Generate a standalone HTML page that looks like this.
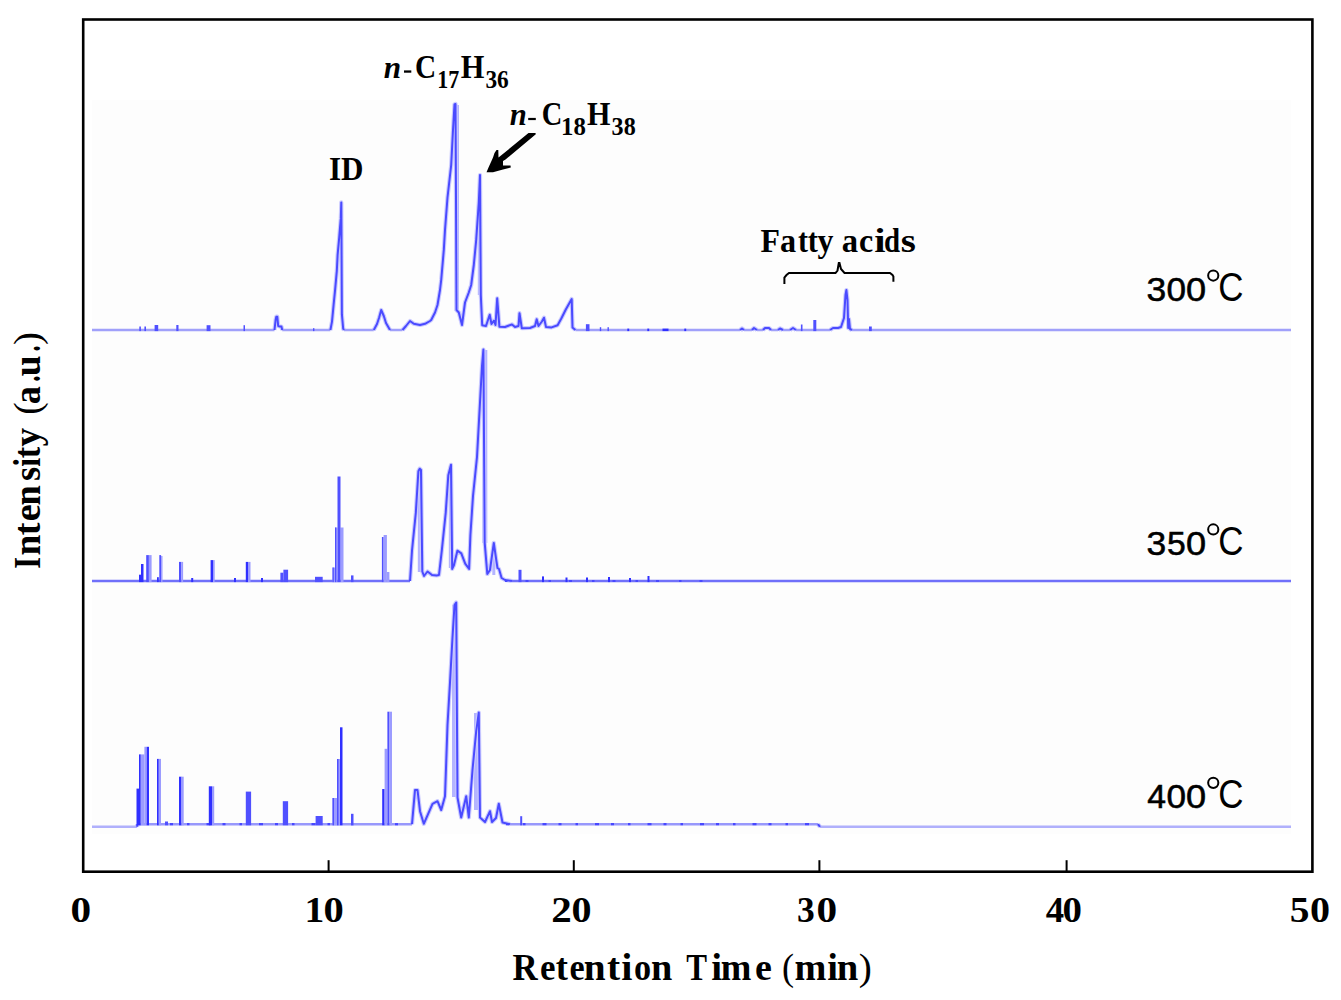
<!DOCTYPE html>
<html><head><meta charset="utf-8">
<style>
html,body{margin:0;padding:0;background:#fff;}
body{width:1341px;height:1000px;overflow:hidden;}
svg{display:block;}
.sb{font-family:"Liberation Serif",serif;font-weight:bold;fill:#000;}
.ss{font-family:"Liberation Sans",sans-serif;fill:#000;}
.sd{font-family:"Liberation Sans",sans-serif;fill:#000;stroke:#000;stroke-width:0.55px;}
</style></head><body>
<svg width="1341" height="1000" viewBox="0 0 1341 1000">
<rect x="0" y="0" width="1341" height="1000" fill="#fff"/>
<rect x="92" y="100" width="1199" height="734" fill="#fdfdfd"/>
<g>
<rect x="454.6" y="105.0" width="4.4" height="206.0" fill="#b4b4ff"/>
<rect x="477.8" y="205.0" width="3.5" height="90.0" fill="#b4b4ff"/>
<rect x="571.5" y="300.0" width="2.5" height="27.0" fill="#b4b4ff"/>
<rect x="417.8" y="472.0" width="4.0" height="100.0" fill="#b4b4ff"/>
<rect x="448.8" y="470.0" width="3.5" height="98.0" fill="#b4b4ff"/>
<rect x="482.3" y="350.0" width="5.0" height="193.0" fill="#b4b4ff"/>
<rect x="492.3" y="545.0" width="3.0" height="30.0" fill="#b4b4ff"/>
<rect x="452.0" y="605.0" width="5.0" height="192.0" fill="#b4b4ff"/>
<rect x="474.0" y="713.0" width="5.0" height="97.0" fill="#b4b4ff"/>
<path d="M274.5,330.0L275.6,320.0L276.3,316.7L277.3,316.7L278.2,326.0L280.0,326.6L281.5,326.6L282.2,330.0M330.4,330.0L332.0,321.6L333.6,304.8L335.2,288.8L336.8,271.2L337.6,255.2L339.2,237.6L340.8,218.4L341.3,202.4L341.9,314.4L343.2,328.8L344.0,330.0M373.8,330.0L377.0,324.0L379.0,318.0L381.2,310.0L383.8,316.0L386.0,323.0L390.0,330.0M402.5,330.0L406.0,326.0L410.0,321.0L413.8,323.8L420.0,325.0L425.0,323.8L430.0,321.0L431.2,320.0L435.0,312.5L437.5,305.0L440.0,290.0L441.2,280.0L443.8,250.0L445.0,230.0L447.5,197.5L451.2,165.0L453.0,130.0L454.5,104.5L455.5,104.0L456.0,200.0L456.5,310.0L458.8,312.5L462.0,325.0L465.0,302.5L468.8,292.5L471.2,285.0L473.8,265.0L476.2,240.0L478.8,202.5L480.0,175.0L480.8,295.0L482.2,325.2L486.0,326.0L489.7,314.7L491.5,324.0L494.0,320.7L495.5,325.0L497.2,298.3L499.4,326.7L505.0,327.0L512.0,324.4L515.0,327.0L518.5,326.0L519.5,313.2L521.8,328.2L530.0,328.0L535.0,326.0L536.7,319.2L538.5,326.0L541.9,321.5L544.0,317.7L546.0,327.0L551.6,327.4L557.6,325.2L561.3,318.5L565.8,309.5L571.7,299.0L572.5,327.4L575.4,330.0M740.0,330.0L742.0,328.5L744.0,330.0M752.0,330.0L754.0,328.0L757.0,330.0M763.0,330.0L765.0,328.0L769.0,328.0L771.0,330.0M778.0,330.0L780.0,328.5L783.0,330.0M790.0,330.0L793.0,328.0L796.0,330.0M830.0,330.0L833.0,328.0L838.0,328.0L841.0,327.0L844.0,318.0L845.5,295.0L846.4,290.0L847.5,300.0L848.2,328.0L849.0,319.0L850.0,329.0L852.0,330.0" fill="none" stroke="#cacaff" stroke-width="4.2" stroke-linejoin="round"/>
<path d="M92.0,330.0L274.5,330.0M282.2,330.0L330.4,330.0M344.0,330.0L373.8,330.0M390.0,330.0L402.5,330.0M575.4,330.0L740.0,330.0M744.0,330.0L752.0,330.0M757.0,330.0L763.0,330.0M771.0,330.0L778.0,330.0M783.0,330.0L790.0,330.0M796.0,330.0L830.0,330.0M852.0,330.0L1291.0,330.0" fill="none" stroke="#a0a0fa" stroke-width="2.4"/>
<path d="M274.5,330.0L275.6,320.0L276.3,316.7L277.3,316.7L278.2,326.0L280.0,326.6L281.5,326.6L282.2,330.0M330.4,330.0L332.0,321.6L333.6,304.8L335.2,288.8L336.8,271.2L337.6,255.2L339.2,237.6L340.8,218.4L341.3,202.4L341.9,314.4L343.2,328.8L344.0,330.0M373.8,330.0L377.0,324.0L379.0,318.0L381.2,310.0L383.8,316.0L386.0,323.0L390.0,330.0M402.5,330.0L406.0,326.0L410.0,321.0L413.8,323.8L420.0,325.0L425.0,323.8L430.0,321.0L431.2,320.0L435.0,312.5L437.5,305.0L440.0,290.0L441.2,280.0L443.8,250.0L445.0,230.0L447.5,197.5L451.2,165.0L453.0,130.0L454.5,104.5L455.5,104.0L456.0,200.0L456.5,310.0L458.8,312.5L462.0,325.0L465.0,302.5L468.8,292.5L471.2,285.0L473.8,265.0L476.2,240.0L478.8,202.5L480.0,175.0L480.8,295.0L482.2,325.2L486.0,326.0L489.7,314.7L491.5,324.0L494.0,320.7L495.5,325.0L497.2,298.3L499.4,326.7L505.0,327.0L512.0,324.4L515.0,327.0L518.5,326.0L519.5,313.2L521.8,328.2L530.0,328.0L535.0,326.0L536.7,319.2L538.5,326.0L541.9,321.5L544.0,317.7L546.0,327.0L551.6,327.4L557.6,325.2L561.3,318.5L565.8,309.5L571.7,299.0L572.5,327.4L575.4,330.0M740.0,330.0L742.0,328.5L744.0,330.0M752.0,330.0L754.0,328.0L757.0,330.0M763.0,330.0L765.0,328.0L769.0,328.0L771.0,330.0M778.0,330.0L780.0,328.5L783.0,330.0M790.0,330.0L793.0,328.0L796.0,330.0M830.0,330.0L833.0,328.0L838.0,328.0L841.0,327.0L844.0,318.0L845.5,295.0L846.4,290.0L847.5,300.0L848.2,328.0L849.0,319.0L850.0,329.0L852.0,330.0" fill="none" stroke="#4a4aff" stroke-width="2.0" stroke-linejoin="round"/>
<path d="M410.0,581.0L412.0,550.7L415.8,513.0L418.4,471.3L419.7,468.7L421.0,470.0L422.3,571.5L424.0,576.0L427.5,571.5L432.0,575.0L436.6,575.4L439.0,575.0L441.8,550.7L445.7,513.0L448.3,475.2L451.0,464.8L452.2,568.9L454.0,565.0L457.4,550.7L461.3,553.3L465.2,563.7L469.1,568.9L470.4,535.0L473.0,496.0L477.0,457.0L479.5,411.5L482.0,366.0L483.4,349.5L484.7,542.9L487.3,574.0L490.0,570.0L493.8,542.9L496.4,561.0L497.5,568.0L499.0,569.0L501.6,578.0L505.0,580.0L512.0,581.0" fill="none" stroke="#cacaff" stroke-width="4.2" stroke-linejoin="round"/>
<path d="M92.0,581.0L331.0,581.0L345.0,581.0L380.0,581.0L410.0,581.0M512.0,581.0L1291.0,581.0" fill="none" stroke="#7070fa" stroke-width="2.4"/>
<path d="M410.0,581.0L412.0,550.7L415.8,513.0L418.4,471.3L419.7,468.7L421.0,470.0L422.3,571.5L424.0,576.0L427.5,571.5L432.0,575.0L436.6,575.4L439.0,575.0L441.8,550.7L445.7,513.0L448.3,475.2L451.0,464.8L452.2,568.9L454.0,565.0L457.4,550.7L461.3,553.3L465.2,563.7L469.1,568.9L470.4,535.0L473.0,496.0L477.0,457.0L479.5,411.5L482.0,366.0L483.4,349.5L484.7,542.9L487.3,574.0L490.0,570.0L493.8,542.9L496.4,561.0L497.5,568.0L499.0,569.0L501.6,578.0L505.0,580.0L512.0,581.0" fill="none" stroke="#4a4aff" stroke-width="2.0" stroke-linejoin="round"/>
<path d="M137.2,826.8L137.2,824.2M412.0,824.2L415.0,790.0L417.5,790.0L420.0,811.2L423.8,823.8L432.5,803.8L437.5,801.2L441.2,810.0L445.0,796.2L446.2,762.5L447.5,725.0L450.0,682.5L452.5,637.5L454.5,605.0L456.2,602.5L457.5,797.5L461.2,817.5L466.2,796.2L468.8,817.5L472.5,770.0L476.2,731.2L478.8,712.5L480.0,817.5L485.0,822.0L490.0,811.2L492.0,822.0L496.0,818.0L498.8,803.8L502.5,822.5L510.0,824.2M818.0,824.2L820.0,826.8" fill="none" stroke="#cacaff" stroke-width="4.2" stroke-linejoin="round"/>
<path d="M92.0,826.8L137.2,826.8M820.0,826.8L1291.0,826.8" fill="none" stroke="#b0b0fc" stroke-width="2.4"/>
<path d="M137.2,824.2L331.0,824.2L349.0,824.2L381.0,824.2L393.0,824.2L412.0,824.2M510.0,824.2L818.0,824.2" fill="none" stroke="#9898fc" stroke-width="2.4"/>
<path d="M137.2,826.8L137.2,824.2M412.0,824.2L415.0,790.0L417.5,790.0L420.0,811.2L423.8,823.8L432.5,803.8L437.5,801.2L441.2,810.0L445.0,796.2L446.2,762.5L447.5,725.0L450.0,682.5L452.5,637.5L454.5,605.0L456.2,602.5L457.5,797.5L461.2,817.5L466.2,796.2L468.8,817.5L472.5,770.0L476.2,731.2L478.8,712.5L480.0,817.5L485.0,822.0L490.0,811.2L492.0,822.0L496.0,818.0L498.8,803.8L502.5,822.5L510.0,824.2M818.0,824.2L820.0,826.8" fill="none" stroke="#4a4aff" stroke-width="2.0" stroke-linejoin="round"/>
<line x1="170" y1="824.2" x2="330" y2="824.2" stroke="#4848ff" stroke-width="2.2" stroke-dasharray="3 14 2.5 17 4 12"/>
<line x1="395" y1="824.2" x2="411" y2="824.2" stroke="#4848ff" stroke-width="2.2" stroke-dasharray="3 14 2.5 17 4 12"/>
<line x1="506" y1="824.2" x2="816" y2="824.2" stroke="#4848ff" stroke-width="2.2" stroke-dasharray="3 14 2.5 17 4 12"/>
<line x1="505" y1="581.0" x2="715" y2="581.0" stroke="#4848ff" stroke-width="2.1" stroke-dasharray="2.5 18 3 20"/>
<rect x="139.3" y="326.5" width="1.6" height="4.6" fill="#5050ff"/>
<rect x="144.4" y="326.5" width="1.6" height="4.6" fill="#5050ff"/>
<rect x="154.6" y="325.0" width="3.6" height="6.1" fill="#5050ff"/>
<rect x="176.3" y="325.0" width="2.2" height="6.1" fill="#5050ff"/>
<rect x="206.6" y="325.2" width="3.9" height="5.9" fill="#5050ff"/>
<rect x="243.5" y="325.2" width="1.5" height="5.9" fill="#5050ff"/>
<rect x="313.0" y="328.2" width="1.4" height="2.9" fill="#5050ff"/>
<rect x="585.9" y="324.2" width="3.6" height="6.9" fill="#5050ff"/>
<rect x="599.8" y="327.2" width="1.4" height="3.9" fill="#5050ff"/>
<rect x="607.5" y="327.2" width="1.4" height="3.9" fill="#5050ff"/>
<rect x="800.9" y="324.5" width="1.6" height="6.6" fill="#5050ff"/>
<rect x="813.3" y="320.0" width="3.0" height="11.1" fill="#5050ff"/>
<rect x="869.0" y="326.5" width="2.8" height="4.6" fill="#5050ff"/>
<rect x="627.3" y="328.6" width="1.9" height="2.5" fill="#3030ff"/>
<rect x="647.3" y="328.6" width="1.9" height="2.5" fill="#3030ff"/>
<rect x="662.5" y="328.6" width="6.0" height="2.5" fill="#3030ff"/>
<rect x="684.3" y="328.6" width="1.9" height="2.5" fill="#3030ff"/>
<rect x="139.0" y="574.7" width="2.0" height="7.4" fill="#3030ff"/>
<rect x="141.0" y="564.0" width="2.5" height="18.1" fill="#3030ff"/>
<rect x="146.2" y="555.1" width="2.7" height="27.0" fill="#5050ff"/>
<rect x="148.9" y="555.1" width="2.7" height="27.0" fill="#9c9cff"/>
<rect x="157.0" y="577.2" width="1.8" height="4.9" fill="#3030ff"/>
<rect x="159.3" y="555.1" width="1.8" height="27.0" fill="#5050ff"/>
<rect x="161.1" y="556.0" width="1.4" height="26.1" fill="#9c9cff"/>
<rect x="179.0" y="561.9" width="2.3" height="20.2" fill="#5050ff"/>
<rect x="181.3" y="561.9" width="1.8" height="20.2" fill="#9c9cff"/>
<rect x="191.2" y="578.0" width="2.0" height="4.1" fill="#3030ff"/>
<rect x="210.6" y="560.1" width="2.4" height="22.0" fill="#3030ff"/>
<rect x="213.0" y="560.1" width="1.7" height="22.0" fill="#9c9cff"/>
<rect x="234.0" y="578.0" width="2.0" height="4.1" fill="#3030ff"/>
<rect x="245.8" y="561.9" width="2.2" height="20.2" fill="#3030ff"/>
<rect x="248.0" y="561.9" width="2.5" height="20.2" fill="#9c9cff"/>
<rect x="261.0" y="578.0" width="2.0" height="4.1" fill="#3030ff"/>
<rect x="280.4" y="572.7" width="3.0" height="9.4" fill="#5050ff"/>
<rect x="283.4" y="569.7" width="4.7" height="12.4" fill="#5050ff"/>
<rect x="315.0" y="576.8" width="7.7" height="5.3" fill="#5050ff"/>
<rect x="351.0" y="575.4" width="2.5" height="6.7" fill="#5050ff"/>
<rect x="518.5" y="569.8" width="3.0" height="12.3" fill="#5050ff"/>
<rect x="542.0" y="576.4" width="2.0" height="5.7" fill="#3030ff"/>
<rect x="565.5" y="577.5" width="2.0" height="4.6" fill="#3030ff"/>
<rect x="586.0" y="577.5" width="2.0" height="4.6" fill="#3030ff"/>
<rect x="608.0" y="577.0" width="2.0" height="5.1" fill="#3030ff"/>
<rect x="629.0" y="578.0" width="2.0" height="4.1" fill="#3030ff"/>
<rect x="647.5" y="576.0" width="2.0" height="6.1" fill="#3030ff"/>
<rect x="332.5" y="567.5" width="2.5" height="14.6" fill="#9c9cff"/>
<rect x="335.0" y="527.5" width="2.5" height="54.6" fill="#9c9cff"/>
<rect x="340.5" y="527.5" width="3.0" height="54.6" fill="#9c9cff"/>
<rect x="332.5" y="567.5" width="1.3" height="14.6" fill="#5050ff"/>
<rect x="335.0" y="527.5" width="1.3" height="54.6" fill="#5050ff"/>
<rect x="337.5" y="476.5" width="3.0" height="105.6" fill="#5050ff"/>
<rect x="381.9" y="537.0" width="1.7" height="45.1" fill="#5050ff"/>
<rect x="383.6" y="535.0" width="3.3" height="47.1" fill="#9c9cff"/>
<rect x="386.9" y="572.0" width="2.5" height="10.1" fill="#9c9cff"/>
<rect x="136.5" y="788.6" width="2.5" height="36.7" fill="#3030ff"/>
<rect x="139.0" y="754.4" width="1.8" height="70.9" fill="#3030ff"/>
<rect x="140.8" y="754.4" width="3.6" height="70.9" fill="#9c9cff"/>
<rect x="144.4" y="746.8" width="2.3" height="78.5" fill="#9c9cff"/>
<rect x="146.7" y="746.8" width="2.3" height="78.5" fill="#3030ff"/>
<rect x="157.0" y="758.9" width="1.8" height="66.4" fill="#3030ff"/>
<rect x="158.8" y="758.9" width="2.2" height="66.4" fill="#9c9cff"/>
<rect x="165.0" y="821.5" width="3.0" height="3.8" fill="#5050ff"/>
<rect x="179.0" y="776.7" width="2.5" height="48.6" fill="#3030ff"/>
<rect x="181.5" y="776.7" width="2.2" height="48.6" fill="#9c9cff"/>
<rect x="208.8" y="786.3" width="3.2" height="39.0" fill="#3030ff"/>
<rect x="212.0" y="786.3" width="2.2" height="39.0" fill="#9c9cff"/>
<rect x="245.8" y="791.6" width="5.3" height="33.7" fill="#5050ff"/>
<rect x="282.8" y="801.2" width="5.3" height="24.1" fill="#5050ff"/>
<rect x="315.6" y="816.0" width="7.1" height="9.3" fill="#5050ff"/>
<rect x="351.0" y="813.8" width="2.5" height="11.6" fill="#5050ff"/>
<rect x="520.2" y="816.2" width="2.0" height="9.1" fill="#5050ff"/>
<rect x="332.5" y="798.0" width="4.5" height="27.3" fill="#9c9cff"/>
<rect x="337.0" y="759.0" width="3.0" height="66.3" fill="#9c9cff"/>
<rect x="332.5" y="798.0" width="1.5" height="27.3" fill="#5050ff"/>
<rect x="337.0" y="759.0" width="1.5" height="66.3" fill="#5050ff"/>
<rect x="340.0" y="727.3" width="2.5" height="98.0" fill="#3030ff"/>
<rect x="382.2" y="789.0" width="2.4" height="36.3" fill="#3030ff"/>
<rect x="384.6" y="748.8" width="2.8" height="76.5" fill="#9c9cff"/>
<rect x="387.4" y="711.7" width="2.1" height="113.6" fill="#5050ff"/>
<rect x="389.5" y="711.7" width="2.5" height="113.6" fill="#9c9cff"/>
</g>
<rect x="83.2" y="19.5" width="1229.2" height="852.2" fill="none" stroke="#000" stroke-width="2.6"/>
<line x1="328.6" y1="860.2" x2="328.6" y2="871" stroke="#000" stroke-width="2"/>
<line x1="573.8" y1="860.2" x2="573.8" y2="871" stroke="#000" stroke-width="2"/>
<line x1="819.4" y1="860.2" x2="819.4" y2="871" stroke="#000" stroke-width="2"/>
<line x1="1066.6" y1="860.2" x2="1066.6" y2="871" stroke="#000" stroke-width="2"/>
<text class="sb" transform="translate(70.43,922.40) scale(1.1375,1)" font-size="36.30">0</text>
<text class="sb" transform="translate(304.62,922.40) scale(1.0925,1)" font-size="36.30">1</text>
<text class="sb" transform="translate(323.45,922.40) scale(1.1180,1)" font-size="36.30">0</text>
<text class="sb" transform="translate(551.28,922.40) scale(1.1284,1)" font-size="36.30">2</text>
<text class="sb" transform="translate(571.47,922.40) scale(1.1050,1)" font-size="36.30">0</text>
<text class="sb" transform="translate(796.97,922.40) scale(0.9778,1)" font-size="36.30">3</text>
<text class="sb" transform="translate(816.43,922.40) scale(1.1375,1)" font-size="36.30">0</text>
<text class="sb" transform="translate(1045.80,922.40) scale(1.0129,1)" font-size="36.30">4</text>
<text class="sb" transform="translate(1062.52,922.40) scale(1.0725,1)" font-size="36.30">0</text>
<text class="sb" transform="translate(1289.72,922.40) scale(1.0867,1)" font-size="36.30">5</text>
<text class="sb" transform="translate(1309.97,922.40) scale(1.1050,1)" font-size="36.30">0</text>
<text class="sb" transform="translate(512.40,979.60) scale(0.9453,1)" font-size="36.90">R</text>
<text class="sb" transform="translate(540.01,979.60) scale(0.9462,1)" font-size="36.90">e</text>
<text class="sb" transform="translate(555.71,979.60) scale(0.9886,1)" font-size="36.90">t</text>
<text class="sb" transform="translate(569.53,979.60) scale(0.9250,1)" font-size="36.90">e</text>
<text class="sb" transform="translate(583.74,979.60) scale(1.0647,1)" font-size="36.90">n</text>
<text class="sb" transform="translate(606.97,979.60) scale(1.0667,1)" font-size="36.90">t</text>
<text class="sb" transform="translate(621.22,979.60) scale(1.0898,1)" font-size="36.90">i</text>
<text class="sb" transform="translate(633.90,979.60) scale(0.9272,1)" font-size="36.90">o</text>
<text class="sb" transform="translate(650.97,979.60) scale(1.0383,1)" font-size="36.90">n</text>
<text class="sb" transform="translate(686.21,979.60) scale(0.8434,1)" font-size="36.90">T</text>
<text class="sb" transform="translate(711.14,979.60) scale(1.0561,1)" font-size="36.90">i</text>
<text class="sb" transform="translate(720.81,979.60) scale(0.9960,1)" font-size="36.90">m</text>
<text class="sb" transform="translate(755.10,979.60) scale(1.0309,1)" font-size="36.90">e</text>
<text class="sb" style="font-weight:normal" transform="translate(782.01,979.60) scale(0.9813,1)" font-size="36.90">(</text>
<text class="sb" transform="translate(794.47,979.60) scale(1.0372,1)" font-size="36.90">m</text>
<text class="sb" transform="translate(827.15,979.60) scale(1.0449,1)" font-size="36.90">i</text>
<text class="sb" transform="translate(836.86,979.60) scale(1.0489,1)" font-size="36.90">n</text>
<text class="sb" style="font-weight:normal" transform="translate(858.73,979.60) scale(1.0657,1)" font-size="36.90">)</text>
<g transform="translate(39.8,567.6) rotate(-90)">
<text class="sb" transform="translate(-1.03,0.00) scale(0.8187,1)" font-size="37.20">I</text>
<text class="sb" transform="translate(12.00,0.00) scale(1.0038,1)" font-size="37.20">n</text>
<text class="sb" transform="translate(32.29,0.00) scale(1.0237,1)" font-size="37.20">t</text>
<text class="sb" transform="translate(46.29,0.00) scale(1.0296,1)" font-size="37.20">e</text>
<text class="sb" transform="translate(62.12,0.00) scale(0.9777,1)" font-size="37.20">n</text>
<text class="sb" transform="translate(86.60,0.00) scale(0.9805,1)" font-size="37.20">s</text>
<text class="sb" transform="translate(100.90,0.00) scale(0.8581,1)" font-size="37.20">i</text>
<text class="sb" transform="translate(109.24,0.00) scale(0.9290,1)" font-size="37.20">t</text>
<text class="sb" transform="translate(121.13,0.00) scale(1.0071,1)" font-size="37.20">y</text>
<text class="sb" style="font-weight:normal" transform="translate(152.84,0.00) scale(1.0153,1)" font-size="37.20">(</text>
<text class="sb" transform="translate(163.43,0.00) scale(0.9740,1)" font-size="37.20">a</text>
<text class="sb" transform="translate(185.79,0.00) scale(0.6799,1)" font-size="37.20">.</text>
<text class="sb" transform="translate(191.33,0.00) scale(1.0091,1)" font-size="37.20">u</text>
<text class="sb" transform="translate(216.02,0.00) scale(0.6633,1)" font-size="37.20">.</text>
<text class="sb" style="font-weight:normal" transform="translate(222.56,0.00) scale(1.0362,1)" font-size="37.20">)</text>
</g>
<text class="sb" transform="translate(328.95,179.75) scale(0.9153,1)" font-size="33.98">ID</text>
<text class="sb" transform="translate(760.46,251.50) scale(0.9402,1)" font-size="33.90">F</text>
<text class="sb" transform="translate(779.96,251.50) scale(0.9515,1)" font-size="33.90">a</text>
<text class="sb" transform="translate(798.02,251.50) scale(0.8873,1)" font-size="33.90">t</text>
<text class="sb" transform="translate(807.71,251.50) scale(0.8968,1)" font-size="33.90">t</text>
<text class="sb" transform="translate(817.39,251.50) scale(0.9393,1)" font-size="33.90">y</text>
<text class="sb" transform="translate(841.75,251.50) scale(0.9645,1)" font-size="33.90">a</text>
<text class="sb" transform="translate(859.11,251.50) scale(0.9430,1)" font-size="33.90">c</text>
<text class="sb" transform="translate(874.21,251.50) scale(1.1985,1)" font-size="33.90">i</text>
<text class="sb" transform="translate(884.03,251.50) scale(0.8539,1)" font-size="33.90">d</text>
<text class="sb" transform="translate(900.82,251.50) scale(1.1465,1)" font-size="33.90">s</text>
<text class="sb" style="font-style:italic" transform="translate(383.76,77.70) scale(1.0008,1)" font-size="31.20">n</text>
<rect x="404" y="70.4" width="7.3" height="2.3" fill="#000"/>
<text class="sb" transform="translate(415.07,77.70) scale(0.8722,1)" font-size="33.60">C</text>
<text class="sb" transform="translate(437.14,87.60) scale(0.8543,1)" font-size="25.75">17</text>
<text class="sb" transform="translate(460.78,77.70) scale(0.9039,1)" font-size="33.60">H</text>
<text class="sb" transform="translate(485.42,87.60) scale(0.9126,1)" font-size="25.60">36</text>
<text class="sb" style="font-style:italic" transform="translate(509.87,124.90) scale(0.9878,1)" font-size="30.99">n</text>
<rect x="528.2" y="117.9" width="7.6" height="2.2" fill="#000"/>
<text class="sb" transform="translate(541.71,124.90) scale(0.8473,1)" font-size="33.60">C</text>
<text class="sb" transform="translate(561.01,134.70) scale(0.9692,1)" font-size="25.60">18</text>
<text class="sb" transform="translate(586.89,124.80) scale(0.9083,1)" font-size="33.14">H</text>
<text class="sb" transform="translate(611.59,134.70) scale(0.9417,1)" font-size="25.60">38</text>
<polygon points="486.5,172.3 488.5,167.5 491.0,162.0 493.0,157.5 494.5,153.0 496.5,150.0 498.3,150.0 498.5,157.5 501.0,155.5 528.5,133.0 535.5,133.0 535.8,134.3 505.5,159.5 503.0,161.0 503.0,165.5 510.5,165.5 510.8,167.5 503.0,169.5 493.0,172.3" fill="#000"/>
<path d="M784.4,284 L784.4,277.5 L786.5,275 L789,273 L835.5,273 L837.5,270.5 L838.8,263 L839.5,263 L841,269 L844.5,273 L890,273 L892.5,275 L893.4,276.5 L893.4,281.8" fill="none" stroke="#000" stroke-width="2" stroke-linejoin="miter"/>
<text class="sd" transform="translate(1146.45,300.60) scale(1.0546,1)" font-size="33.60">3</text>
<text class="sd" transform="translate(1166.53,300.60) scale(1.0460,1)" font-size="33.60">0</text>
<text class="sd" transform="translate(1185.99,300.60) scale(1.0771,1)" font-size="33.60">0</text>
<circle cx="1213.25" cy="275.55" r="5.1" fill="none" stroke="#000" stroke-width="2.0"/>
<text class="ss" transform="translate(1218.23,300.60) scale(0.8724,1)" font-size="40.00">C</text>
<text class="sd" transform="translate(1146.45,554.50) scale(1.0546,1)" font-size="33.60">3</text>
<text class="sd" transform="translate(1166.95,554.50) scale(1.0044,1)" font-size="33.60">5</text>
<text class="sd" transform="translate(1185.99,554.50) scale(1.0771,1)" font-size="33.60">0</text>
<circle cx="1213.25" cy="529.45" r="5.1" fill="none" stroke="#000" stroke-width="2.0"/>
<text class="ss" transform="translate(1218.23,554.50) scale(0.8724,1)" font-size="40.00">C</text>
<text class="sd" transform="translate(1147.13,807.90) scale(1.0041,1)" font-size="33.60">4</text>
<text class="sd" transform="translate(1166.53,807.90) scale(1.0460,1)" font-size="33.60">0</text>
<text class="sd" transform="translate(1185.99,807.90) scale(1.0771,1)" font-size="33.60">0</text>
<circle cx="1213.25" cy="782.85" r="5.1" fill="none" stroke="#000" stroke-width="2.0"/>
<text class="ss" transform="translate(1218.23,807.90) scale(0.8724,1)" font-size="40.00">C</text>
</svg>
</body></html>
